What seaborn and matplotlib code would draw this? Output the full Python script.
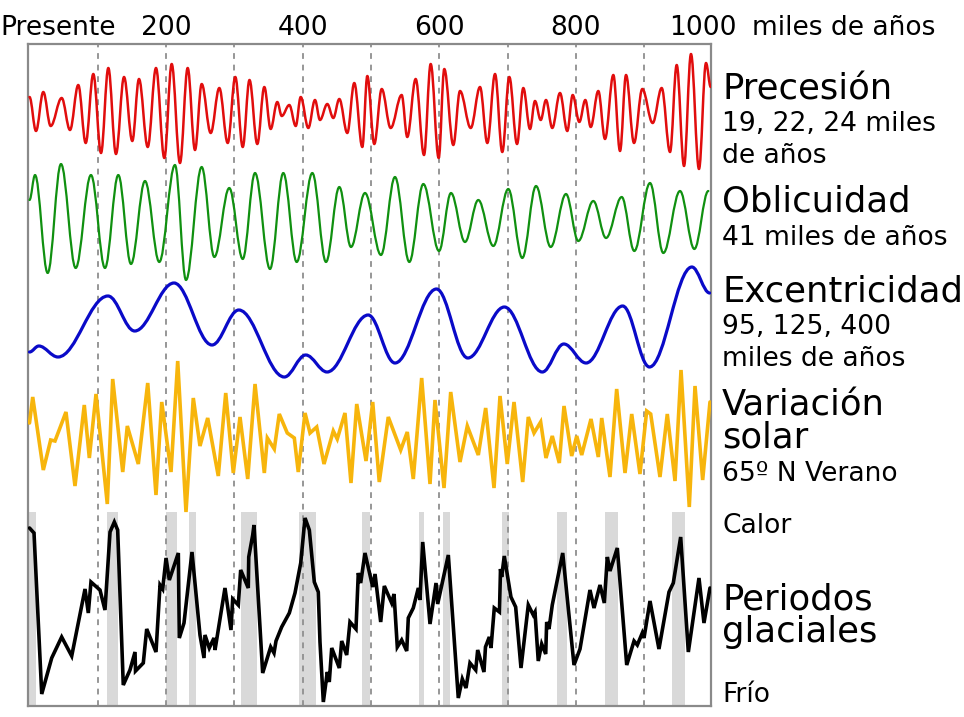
import numpy as np
import pandas as pd
import matplotlib
matplotlib.use("Agg")
import matplotlib.pyplot as plt
from matplotlib.path import Path
from matplotlib.patches import PathPatch
import seaborn as sns

# ---------------- data (kyr before present, relative amplitude) ----------------
prec_t = [0, 9.5, 20.2, 31.0, 47.1, 59.3, 71.4, 82.3, 93.4, 104.7,
          115.4, 126.6, 138.4, 150.5, 160.3, 173.1, 185.2, 197.4, 208.2, 220.3,
          231.6, 242.3, 252.1, 265.3, 277.9, 290.2, 301.3, 312.2, 322.1, 333.5,
          343.8, 353.1, 362.8, 369.3, 380.4, 389.8, 397.1, 408.2, 418.0, 425.3,
          436.0, 444.8, 453.6, 465.3, 475.5, 487.3, 494.6, 504.8, 515.7, 528.8,
          544.9, 553.1, 565.4, 577.6, 587.4, 599.1, 607.3, 620.5, 630.3, 646.0,
          659.6, 670.3, 681.6, 692.2, 702.5, 713.8, 723.0, 732.8, 740.1, 748.5,
          756.2, 765.4, 776.7, 787.4, 795.3, 805.0, 813.8, 821.7, 832.8, 842.6,
          854.8, 864.6, 873.4, 885.1, 897.2, 912.4, 925.6, 937.8, 947.6, 958.3,
          968.5, 980.2, 990.5, 997.4]
prec_v = [14, -20, 19, -15, 13, -19, 26, -32, 37, -42,
          43, -43, 34, -30, 32, -36, 43, -47, 47, -52,
          43, -39, 27, -22, 23, -32, 34, -36, 31, -33,
          24, -18, 9, -5, 6, -15, 14, -17, 11, -9,
          7, -7, 12, -22, 28, -36, 35, -33, 22, -17,
          16, -26, 32, -44, 47, -47, 42, -34, 20, -17,
          24, -32, 37, -41, 34, -33, 23, -18, 10, -9,
          11, -17, 18, -20, 16, -11, 11, -16, 20, -28,
          36, -40, 36, -32, 22, -12, 23, -41, 46, -55,
          57, -58, 48, 24]

obl_t = [0, 8.1, 26.6, 46.1, 67.6, 90.0, 110.5, 130.0, 148.6, 169.1,
         190.0, 213.0, 229.1, 252.1, 270.6, 292.5, 312.2, 330.2, 352.1, 371.6,
         391.2, 414.1, 434.1, 453.6, 470.7, 491.2, 514.6, 535.1, 556.1, 576.6,
         599.6, 617.1, 637.6, 657.1, 679.1, 701.0, 721.5, 741.6, 763.1, 785.5,
         803.5, 825.5, 844.1, 867.1, 885.5, 908.5, 928.0, 952.4, 973.4, 993.9]
obl_v = [22, 47, -51, 58, -46, 47, -46, 47, -42, 41,
         -40, 57, -58, 55, -35, 34, -37, 49, -47, 49,
         -40, 49, -40, 35, -25, 29, -33, 45, -40, 38,
         -29, 29, -20, 22, -24, 33, -36, 36, -25, 28,
         -19, 21, -16, 25, -29, 39, -31, 31, -27, 31]

ecc_t = [0, 13.6, 41.7, 114.9, 154.0, 211.6, 267.2, 306.4, 373.1, 404.4,
         435.7, 495.9, 535.1, 595.9, 641.7, 695.3, 750.8, 782.3, 814.9, 868.5,
         907.7, 969.8, 995.9]
ecc_v = [-30, -24, -35, 26, -9, 39, -23, 12, -55, -33,
         -50, 7, -41, 33, -36, 15, -50, -22, -41, 16,
         -45, 55, 29]

sol_t = [0, 4.7, 20.2, 31.0, 37.3, 53.4, 66.6, 80.2, 87.6, 97.4,
         113.9, 121.8, 136.5, 143.2, 159.3, 173.1, 185.2, 193.6, 207.2, 217.0,
         229.1, 239.8, 249.6, 260.9, 276.4, 287.3, 298.4, 308.2, 319.5, 330.2,
         343.8, 348.2, 358.4, 365.7, 377.4, 387.7, 393.5, 403.4, 410.7, 420.5,
         431.2, 444.8, 450.6, 461.9, 470.7, 479.1, 492.7, 502.5, 512.1, 525.3,
         543.5, 553.1, 561.9, 574.2, 586.4, 593.7, 606.9, 616.7, 630.3, 641.0,
         657.1, 667.9, 680.1, 688.9, 699.5, 709.4, 722.1, 730.3, 738.7, 748.4,
         756.2, 765.4, 775.7, 782.6, 793.8, 801.2, 808.5, 822.1, 832.8, 837.8,
         849.9, 859.7, 871.9, 881.7, 893.8, 903.6, 909.5, 923.1, 933.8, 945.1,
         953.9, 966.0, 974.4, 985.6, 996.3]
sol_v = [17, 43, -30, 0, -1, 28, -46, 35, -18, 46,
         -64, 61, -32, 14, -24, 57, -55, 38, -32, 79,
         -72, 42, -6, 22, -36, 47, -33, 23, -39, 56,
         -33, 2, -9, 26, 7, 2, -32, 27, 7, 13,
         -24, 9, 1, 27, -43, 36, -21, 38, -42, 23,
         -10, 8, -39, 62, -44, 40, -48, 48, -22, 14,
         -15, 32, -48, 44, -24, 38, -42, 23, 7, 18,
         -18, 4, -23, 34, -16, 4, -15, 21, -17, 22,
         -37, 51, -33, 26, -34, 29, 26, -37, 26, -41,
         70, -67, 54, -40, 38]

gla_t = [0, 6.6, 17.9, 32.5, 47.1, 61.8, 81.3, 86.1, 90.0, 103.2,
         110.5, 117.9, 124.2, 129.1, 137.3, 147.1, 154.5, 155.2, 166.6, 171.6,
         185.2, 191.1, 195.0, 199.9, 204.7, 217.9, 219.3, 226.2, 237.9, 249.6,
         255.5, 256.9, 263.2, 270.1, 271.6, 286.2, 295.0, 297.5, 305.7, 309.2,
         320.3, 321.0, 326.8, 328.7, 341.4, 353.1, 358.0, 360.9, 369.2, 380.4,
         388.7, 397.1, 403.4, 409.7, 417.0, 422.8, 425.3, 430.2, 436.0, 438.9,
         442.5, 453.6, 457.1, 464.4, 469.2, 478.0, 481.4, 484.9, 491.2, 502.5,
         505.9, 514.2, 519.5, 530.3, 533.7, 538.5, 544.9, 552.3, 554.6, 561.9,
         569.3, 571.7, 575.7, 586.4, 595.2, 597.6, 613.2, 627.8, 633.7, 639.1,
         644.9, 653.3, 656.2, 665.4, 667.6, 673.2, 675.7, 680.5, 688.1, 689.6,
         691.3, 695.1, 704.9, 711.8, 719.6, 730.3, 737.6, 740.1, 744.9, 749.9,
         755.8, 757.2, 760.6, 765.4, 780.7, 797.2, 806.0, 820.6, 826.5, 835.3,
         841.6, 846.0, 849.9, 860.6, 874.4, 885.1, 889.9, 897.2, 899.7, 908.5,
         921.6, 936.3, 942.6, 953.4, 964.6, 980.2, 987.5, 996.3]
gla_v = [82, 77, -84, -48, -27, -46, 21, -3, 28, 20,
         0, 78, 88, 80, -75, -60, -42, -61, -53, -19,
         -42, 25, 21, 52, 30, 57, -28, -13, 58, -25,
         -48, -25, -38, -28, -40, 22, -20, 11, 5, 40,
         22, 53, 75, 85, -63, -37, -43, -31, -17, -3,
         17, 47, 92, 80, 28, 18, -32, -92, -62, -72,
         -38, -58, -31, -45, -12, -19, 37, 27, 57, 23,
         36, -12, 24, 7, 16, -37, -30, -41, -8, 2,
         22, 10, 68, -14, 27, 6, 55, -88, -69, -78,
         -53, -60, -40, -62, -37, -27, -38, 2, -2, 41,
         33, 54, 13, 3, -58, 5, -5, -2, -51, -34,
         -44, -12, -19, 5, 57, -55, -39, 20, 2, 25,
         7, 53, 39, 62, -55, -31, -35, -23, -28, 9,
         -39, 18, 27, 73, -42, 32, -13, 22]

warm_start = [-2.2, 113.0, 199.4, 233.5, 309.2, 395.0, 486.4, 570.3, 605.0, 691.3, 772.8, 842.6, 940.7]
warm_end = [9.1, 129.1, 215.5, 243.3, 332.6, 419.0, 498.5, 577.6, 615.7, 702.5, 786.5, 861.2, 959.8]

grid_kyr = [100, 200, 300, 400, 500, 600, 700, 800, 900]
top_labels = ["200", "400", "600", "800"]
top_label_pos = [200, 400, 600, 800]

# ---------------- style ----------------
sns.set_theme(style="white")
plt.rcParams["font.family"] = ["DejaVu Sans"]

W, H = 964, 717
fig = plt.figure(figsize=(W / 100, H / 100), dpi=100)
ax = fig.add_axes([28 / W, 11 / H, 683 / W, 662 / H])
ax.set_xlim(-2.2, 997.8)
ax.set_ylim(0, 662)
ax.set_xticks([])
ax.set_yticks([])
for s in ax.spines.values():
    s.set_color("#8a8a8a")
    s.set_linewidth(1.6)

# strip baselines (axis units)
BASE_PREC, BASE_OBL, BASE_ECC, BASE_SOL, BASE_GLA = 595, 484, 384, 266, 96
BAND_TOP = 194

# warm-period bands
for a, b in zip(warm_start, warm_end):
    ax.axvspan(a, b, ymin=0, ymax=BAND_TOP / 662, color="#d9d9d9", lw=0, zorder=0.5)

# dashed 100 kyr grid
for g in grid_kyr:
    ax.axvline(g, color="#8f8f8f", lw=1.3, dashes=(3.2, 3.2), zorder=1)


def smooth_curve(t, v, base, color, lw):
    t = np.asarray(t, float)
    y = base + np.asarray(v, float)
    verts = [(t[0], y[0])]
    codes = [Path.MOVETO]
    k = 0.3642
    for i in range(len(t) - 1):
        dt = t[i + 1] - t[i]
        verts += [(t[i] + k * dt, y[i]), (t[i + 1] - k * dt, y[i + 1]), (t[i + 1], y[i + 1])]
        codes += [Path.CURVE4] * 3
    patch = PathPatch(Path(verts, codes), fill=False, edgecolor=color, lw=lw,
                      capstyle="round", joinstyle="round", zorder=3)
    patch.set_clip_path(ax.patch)
    ax.add_patch(patch)


smooth_curve(prec_t, prec_v, BASE_PREC, "#e10d0d", 1.8)
smooth_curve(obl_t, obl_v, BASE_OBL, "#109010", 1.6)
smooth_curve(ecc_t, ecc_v, BASE_ECC, "#0a0ac8", 2.3)

sol = pd.DataFrame({"t": sol_t, "v": np.asarray(sol_v) + BASE_SOL})
sns.lineplot(data=sol, x="t", y="v", ax=ax, color="#f7b50c", lw=2.6,
             sort=False, estimator=None, zorder=3, solid_joinstyle="miter")
gla = pd.DataFrame({"t": gla_t, "v": np.asarray(gla_v) + BASE_GLA})
sns.lineplot(data=gla, x="t", y="v", ax=ax, color="black", lw=2.6,
             sort=False, estimator=None, zorder=3, solid_joinstyle="miter")
ax.set_xlabel("")
ax.set_ylabel("")
ax.set_xlim(-2.2, 997.8)
ax.set_ylim(0, 662)

# ---------------- texts ----------------
SMALL, BIG = 19.1, 25.5


def ftxt(x, y, s, size, ha="left"):
    fig.text(x / W, 1 - y / H, s, fontsize=size, ha=ha, va="center", color="black")


ftxt(0, 28, "Presente", SMALL)
for lab, pos in zip(top_labels, top_label_pos):
    xpx = 28 + (pos + 2.2) * 683 / 1000
    ftxt(xpx, 28, lab, SMALL, ha="center")
ftxt(703, 28, "1000", SMALL, ha="center")
ftxt(752, 28, "miles de años", SMALL)

X0 = 722
ftxt(X0, 89, "Precesión", BIG)
ftxt(X0, 124, "19, 22, 24 miles", SMALL)
ftxt(X0, 156, "de años", SMALL)
ftxt(X0, 202, "Oblicuidad", BIG)
ftxt(X0, 238, "41 miles de años", SMALL)
ftxt(X0, 292, "Excentricidad", BIG)
ftxt(X0, 327, "95, 125, 400", SMALL)
ftxt(X0, 359, "miles de años", SMALL)
ftxt(X0, 406, "Variación", BIG)
ftxt(X0, 438, "solar", BIG)
ftxt(X0, 474, "65º N Verano", SMALL)
ftxt(X0, 526, "Calor", SMALL)
ftxt(X0, 599, "Periodos", BIG)
ftxt(X0, 632, "glaciales", BIG)
ftxt(X0, 695, "Frío", SMALL)

fig.savefig("out.png", dpi=100)
